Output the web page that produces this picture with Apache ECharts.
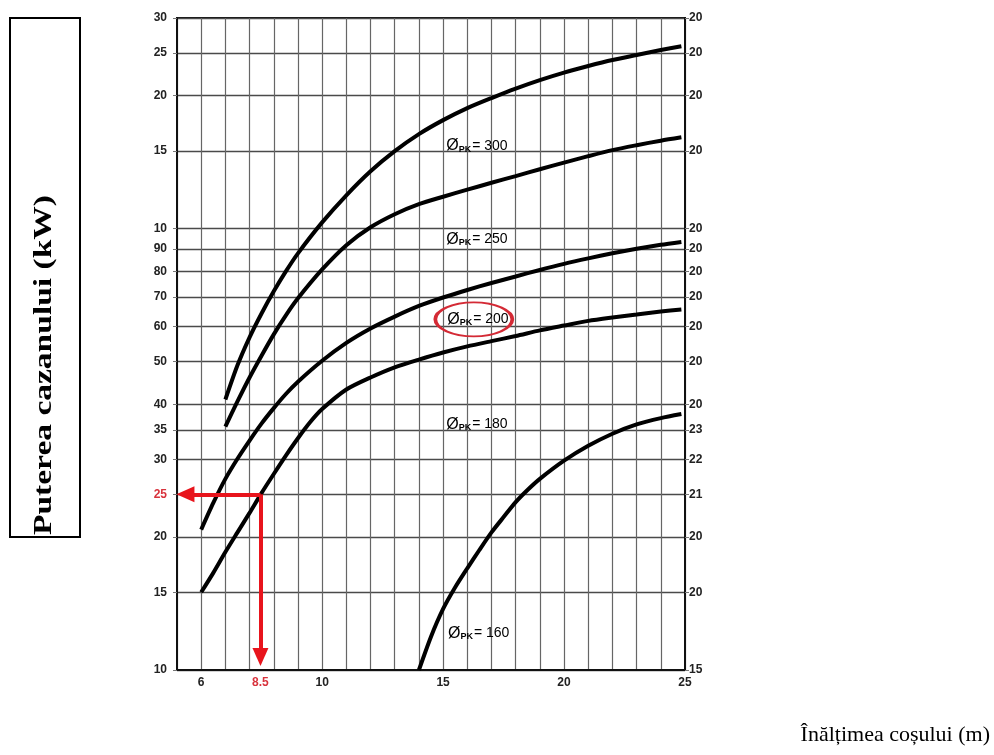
<!DOCTYPE html>
<html>
<head>
<meta charset="utf-8">
<script src="https://cdn.jsdelivr.net/npm/echarts@6/dist/echarts.min.js"></script>
<style>
html,body{margin:0;padding:0;background:#fff;}
#chart{width:994px;height:755px;}
</style>
</head>
<body>
<div id="chart"></div>
<script>
// curbe: [inaltime cos (m), putere (kW)]
const pk300 = [[6,41],[6.5,49],[7,56.7],[7.5,64.3],[8,72.1],[8.5,80],[9,87.9],[10,103.3],[11,119],[12,134.9],[13,149.8],[14,163.7],[15,176.1],[16,187.5],[17,197.6],[18,207.6],[19,217],[20,225.7],[21,233.5],[22,240.9],[23,247.3],[24,253.9],[24.85,259]];
const pk250 = [[6,35.6],[6.5,40.6],[7,46],[7.5,51.6],[8,57.6],[8.5,63.6],[9,69.5],[10,80.8],[11,91.7],[12,100.7],[13,107.8],[14,113.6],[15,118.1],[16,122.5],[17,127],[18,131.5],[19,136.3],[20,141.1],[21,145.9],[22,150.6],[23,154.5],[24,158.2],[24.85,161]];
const pk200 = [[5,20.8],[5.5,23.9],[6,27.1],[6.5,30.1],[7,33.1],[7.5,36.2],[8,39.2],[8.5,42.2],[9,45],[10,50.2],[11,55.1],[12,59.4],[13,63.2],[14,66.8],[15,69.8],[16,72.6],[17,75.3],[18,77.9],[19,80.6],[20,83.2],[21,85.6],[22,87.9],[23,90],[24,91.9],[24.85,93.3]];
const pk180 = [[5,15],[5.5,16.6],[6,18.5],[6.5,20.5],[7,22.7],[7.5,25.2],[8,27.8],[8.5,30.6],[9,33.5],[9.5,36.4],[10,39],[11,43.2],[12,46],[13,48.5],[14,50.5],[15,52.4],[16,54.1],[17,55.6],[18,57.1],[19,58.8],[20,60.3],[21,61.8],[22,62.9],[23,63.9],[24,64.9],[24.85,65.6]];
const pk160 = [[14,10],[14.5,11.9],[15,13.75],[15.5,15.4],[16,17],[16.5,18.7],[17,20.5],[17.5,22.2],[18,24],[18.5,25.6],[19,27.1],[20,29.8],[21,32.2],[22,34.3],[23,36],[24,37.2],[24.85,38]];

// etichete axe (asa cum apar in imagine)
const yTickValues = [10,15,20,25,30,35,40,50,60,70,80,90,100,150,200,250,300];
const yLeftLabels = ['10','15','20','25','30','35','40','50','60','70','80','90','10','15','20','25','30'];
const yRightLabels = ['15','20','20','21','22','23','20','20','20','20','20','20','20','20','20','20','20'];
const xTickValues = [5, 7.45, 10, 15, 20, 25];
const xTickLabels = ['6','8.5','10','15','20','25'];

// citirea marcata cu rosu
const readPoint = [7.45, 25];

const RED = '#e8141c';
const LABEL_RED = '#d8323c';
const AXIS_FONT = '"Liberation Sans Narrow", "Liberation Sans", Arial, sans-serif';

function findIdx(arr, v) {
  return arr.findIndex(function (t) { return Math.abs(t - v) < 1e-6 * Math.max(1, t); });
}

function curve(name, data, labelAt) {
  return {
    type: 'line',
    name: name,
    data: data,
    smooth: 0.25,
    symbol: 'none',
    lineStyle: { color: '#000', width: 4 },
    z: 3,
    markPoint: {
      silent: true,
      symbol: 'circle',
      symbolSize: 0,
      data: [{ coord: labelAt }],
      label: {
        show: true,
        position: 'right',
        distance: 0,
        formatter: '{o|Ø}{s|PK}{t|= ' + name + '}',
        rich: {
          o: { fontFamily: AXIS_FONT, fontSize: 16, color: '#000' },
          s: { fontFamily: AXIS_FONT, fontSize: 9, color: '#000', fontWeight: 'bold', padding: [6, 1, 0, 0] },
          t: { fontFamily: AXIS_FONT, fontSize: 14, color: '#000' }
        }
      }
    }
  };
}

const chart = echarts.init(document.getElementById('chart'));

const s200 = curve('200', pk200, [15.17, 62.3]);
s200.markPoint.data.push({
  coord: [16.27, 62.3],
  symbol: 'path://M0,50 A50,50 0 1,0 100,50 A50,50 0 1,0 0,50 Z',
  symbolSize: [77, 34],
  itemStyle: { color: 'rgba(0,0,0,0)', borderColor: '#d42a35', borderWidth: 2.5 },
  label: { show: false }
});

const s180 = curve('180', pk180, [15.13, 36]);
s180.markLine = {
  silent: true,
  symbol: ['none', 'triangle'],
  symbolSize: [16, 18],
  label: { show: false },
  lineStyle: { color: RED, width: 4, type: 'solid' },
  itemStyle: { color: RED },
  z: 6,
  data: [
    [{ coord: readPoint }, { coord: [4.35, readPoint[1]] }],
    [{ coord: readPoint }, { coord: [readPoint[0], 10.7] }]
  ]
};

const option = {
  animation: false,
  backgroundColor: '#fff',
  grid: {
    left: 177, top: 18, right: 309, bottom: 85,
    show: true, borderColor: '#111', borderWidth: 2
  },
  xAxis: {
    type: 'value',
    min: 4, max: 25, interval: 1,
    axisLine: { show: true, lineStyle: { color: '#111', width: 2 } },
    axisTick: { show: false },
    splitLine: { show: true, lineStyle: { color: '#666', width: 1.2 } },
    axisLabel: {
      customValues: xTickValues,
      margin: 7,
      fontFamily: AXIS_FONT,
      fontSize: 12,
      fontWeight: 'bold',
      color: function (v) {
        return Math.abs(v - readPoint[0]) < 1e-6 ? LABEL_RED : '#222';
      },
      formatter: function (v) {
        const i = findIdx(xTickValues, v);
        return i >= 0 ? xTickLabels[i] : '';
      }
    }
  },
  yAxis: [
    {
      type: 'log', logBase: 10, min: 10, max: 300,
      axisLine: { show: true, lineStyle: { color: '#111', width: 2 } },
      axisTick: { show: true, length: 4, customValues: yTickValues, lineStyle: { color: '#777' } },
      splitLine: { show: true, lineStyle: { color: '#4a4a4a', width: 1.3 } },
      axisLabel: {
        customValues: yTickValues,
        margin: 10,
        fontFamily: AXIS_FONT,
        fontSize: 12,
        fontWeight: 'bold',
        color: function (v) {
          return Math.abs(v - readPoint[1]) < 1e-6 ? LABEL_RED : '#222';
        },
        formatter: function (v) {
          const i = findIdx(yTickValues, v);
          return i >= 0 ? yLeftLabels[i] : '';
        }
      }
    },
    {
      type: 'log', logBase: 10, min: 10, max: 300, position: 'right',
      axisLine: { show: true, lineStyle: { color: '#111', width: 2 } },
      axisTick: { show: true, length: 4, customValues: yTickValues, lineStyle: { color: '#777' } },
      splitLine: { show: false },
      axisLabel: {
        customValues: yTickValues,
        margin: 4,
        fontFamily: AXIS_FONT,
        fontSize: 12,
        fontWeight: 'bold',
        color: '#222',
        formatter: function (v) {
          const i = findIdx(yTickValues, v);
          return i >= 0 ? yRightLabels[i] : '';
        }
      }
    }
  ],
  series: [
    curve('300', pk300, [15.13, 153.8]),
    curve('250', pk250, [15.13, 94.6]),
    s200,
    s180,
    curve('160', pk160, [15.2, 12.1])
  ],
  graphic: [
    {
      type: 'rect',
      shape: { x: 10, y: 18, width: 70, height: 519 },
      style: { fill: 'none', stroke: '#000', lineWidth: 2 }
    },
    {
      type: 'text',
      x: 45, y: 535,
      rotation: Math.PI / 2,
      scaleX: 1.34,
      style: {
        text: 'Puterea cazanului (kW)',
        font: 'bold 25px "Liberation Serif", "Times New Roman", serif',
        fill: '#000',
        align: 'left',
        verticalAlign: 'middle'
      }
    },
    {
      type: 'text',
      x: 990, y: 735,
      style: {
        text: 'Înălțimea coșului (m)',
        font: '22px "Liberation Serif", "Times New Roman", serif',
        fill: '#000',
        align: 'right',
        verticalAlign: 'middle'
      }
    }
  ]
};

chart.setOption(option);
</script>
</body>
</html>
